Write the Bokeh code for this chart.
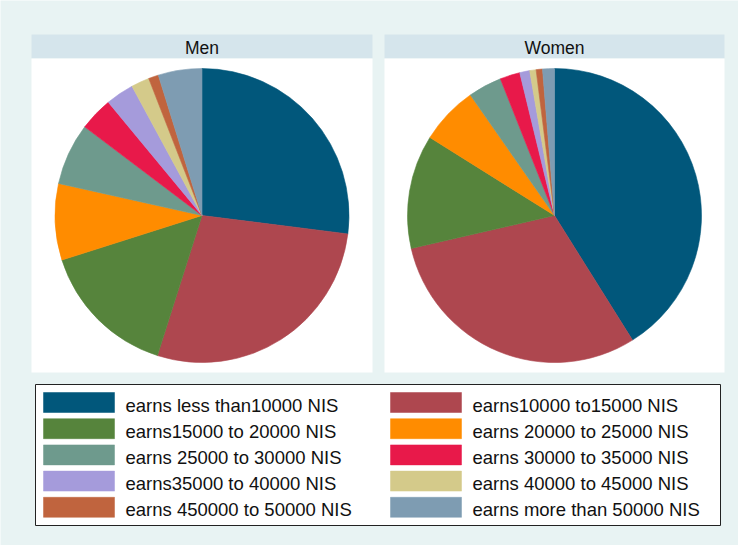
import numpy as np
from bokeh.plotting import figure
from bokeh.models import Range1d, ColumnDataSource
from bokeh.core.properties import value
from bokeh.embed import file_html
from bokeh.resources import INLINE

# ---- data ----
panels = ["Men", "Women"]
categories = [
    "earns less than10000 NIS",
    "earns10000 to15000 NIS",
    "earns15000 to 20000 NIS",
    "earns 20000 to 25000 NIS",
    "earns 25000 to 30000 NIS",
    "earns 30000 to 35000 NIS",
    "earns35000 to 40000 NIS",
    "earns 40000 to 45000 NIS",
    "earns 450000 to 50000 NIS",
    "earns more than 50000 NIS",
]
men_values = [27.0, 27.9, 15.2, 8.4, 6.8, 3.7, 3.1, 2.0, 1.1, 4.8]
women_values = [41.1, 30.3, 12.5, 6.4, 3.7, 2.2, 1.1, 0.7, 0.7, 1.3]
colors = ["#01577B", "#AE474F", "#56843C", "#FF8C00", "#6E9A8D",
          "#E8194A", "#A59BDB", "#D4CA8A", "#C0643E", "#7E9CB2"]

# ---- layout (screen pixels, converted to data with y up) ----
W, H = 738, 545
def sy(y):
    return H - y

BG = "#E8F3F3"
HEADER = "#D5E5EC"
FONT = "Liberation Sans"

p = figure(width=W, height=H, output_backend="svg", toolbar_location=None,
           x_range=Range1d(0, W), y_range=Range1d(0, H),
           x_axis_type=None, y_axis_type=None, min_border=0,
           background_fill_color=BG, border_fill_color=BG,
           outline_line_color=None)
p.xgrid.visible = False
p.ygrid.visible = False

panel_x = [(31, 372), (384, 724)]
header_top, header_bot, plot_bot = 34, 58, 372
pie_cy, radius = 215, 147

for (xl, xr), name, vals in zip(panel_x, panels, [men_values, women_values]):
    p.quad(left=[xl], right=[xr], top=[sy(header_top)], bottom=[sy(header_bot)],
           fill_color=HEADER, line_color=None)
    p.quad(left=[xl], right=[xr], top=[sy(header_bot)], bottom=[sy(plot_bot)],
           fill_color="white", line_color=None)
    p.text(x=[(xl + xr) / 2], y=[sy((header_top + header_bot) / 2) - 1], text=[name],
           text_font=value(FONT), text_font_size="17.5px", text_color="#111111",
           text_align="center", text_baseline="middle")
    v = np.array(vals, dtype=float)
    frac = v / v.sum()
    cum = np.concatenate([[0.0], np.cumsum(frac)])
    start = np.pi / 2 - 2 * np.pi * cum[:-1]
    end = np.pi / 2 - 2 * np.pi * cum[1:]
    src = ColumnDataSource(dict(start=start, end=end, color=colors,
                                cat=categories))
    cx = (xl + xr) / 2
    p.wedge(x=cx, y=sy(pie_cy), radius=radius, start_angle="start",
            end_angle="end", direction="clock", fill_color="color",
            line_color="color", line_width=0.6, source=src)

# ---- legend ----
lx0, lx1, ly0, ly1 = 35, 720, 384, 525
p.quad(left=[lx0], right=[lx1], top=[sy(ly0)], bottom=[sy(ly1)],
       fill_color="white", line_color="#222222", line_width=1)
row_y0, row_dy = 402, 26.2
col_sw = [43, 390]
sw_w, sw_h = 71, 20
text_off = 82
lx, ly = [], []
for i, cat in enumerate(categories):
    col, row = i % 2, i // 2
    lx.append(col_sw[col])
    ly.append(sy(row_y0 + row * row_dy))
lx = np.array(lx, dtype=float)
ly = np.array(ly, dtype=float)
p.rect(x=lx + sw_w / 2, y=ly, width=sw_w, height=sw_h,
       fill_color=colors, line_color=colors, line_width=0.5)
p.text(x=lx + text_off, y=ly - 2.5, text=categories,
       text_font=value(FONT), text_font_size="18.5px", text_color="#111111",
       text_align="left", text_baseline="middle")

open("out.html", "w").write(file_html(p, INLINE))
